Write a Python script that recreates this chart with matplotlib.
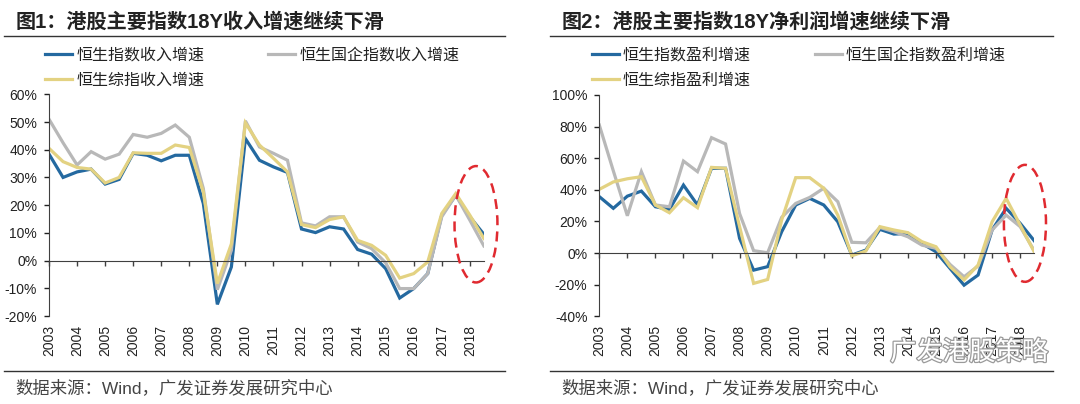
import matplotlib
matplotlib.use("Agg")
import matplotlib.pyplot as plt
import matplotlib.patheffects as pe
from matplotlib.lines import Line2D
from matplotlib.patches import Ellipse
import numpy as np

plt.rcParams['font.family'] = ['Liberation Sans', 'Noto Sans CJK SC']

# half-year periods, 2003 .. 2018H2
periods = np.arange(2003, 2019, 0.5)
years = list(range(2003, 2019))

# chart 1: revenue growth (%)
hsi_rev = [38.4, 30.0, 32.0, 33.0, 27.6, 29.3, 38.7, 38.0, 36.0, 38.0, 38.0, 20.6,
           -15.8, -2.3, 44.0, 36.2, 33.8, 31.8, 11.4, 10.1, 12.2, 11.4, 4.0, 2.3,
           -2.9, -13.5, -10.1, -4.7, 16.4, 23.6, 15.8, 9.5]
hscei_rev = [51.0, 42.5, 34.5, 39.3, 36.6, 38.4, 45.5, 44.5, 45.9, 48.9, 44.5, 26.0,
             -10.5, 3.7, 50.4, 41.0, 38.7, 36.2, 13.6, 12.5, 15.8, 15.8, 6.7, 4.3,
             -0.8, -10.1, -10.1, -4.7, 15.8, 23.6, 14.6, 5.3]
hsci_rev = [40.5, 35.7, 33.6, 33.0, 28.0, 30.0, 38.9, 38.7, 38.7, 41.7, 40.8, 24.8,
            -8.3, 6.0, 49.7, 41.7, 36.9, 32.0, 13.0, 11.9, 14.8, 15.8, 7.3, 5.5,
            1.9, -6.3, -4.7, -0.5, 17.0, 24.2, 16.4, 8.0]

# chart 2: net profit growth (%)
hsi_np = [35.7, 28.3, 36.0, 39.2, 29.3, 27.6, 43.0, 30.4, 53.6, 53.6, 9.3, -10.8,
          -8.6, 13.5, 30.4, 34.6, 30.4, 19.8, -1.3, 1.9, 15.0, 12.0, 12.4, 6.1,
          0.8, -9.7, -20.3, -13.9, 14.6, 28.3, 18.8, 7.8]
hscei_np = [81.0, 52.0, 23.6, 51.5, 30.4, 29.3, 58.2, 51.5, 73.0, 69.0, 25.0, 1.5,
            0.2, 22.6, 31.4, 35.2, 41.0, 32.5, 6.8, 6.5, 16.2, 13.5, 10.3, 5.0,
            3.0, -7.2, -15.0, -8.2, 14.6, 24.0, 16.7, 1.5]
hsci_np = [40.3, 45.0, 47.0, 48.3, 30.4, 25.5, 35.0, 28.7, 54.2, 53.6, 16.7, -19.2,
           -16.7, 20.9, 47.7, 47.7, 41.0, 24.0, -1.7, 1.3, 16.7, 14.6, 12.9, 7.2,
           4.0, -8.6, -17.0, -7.6, 19.8, 34.6, 17.7, 0.8]

titles = ['图1：港股主要指数18Y收入增速继续下滑', '图2：港股主要指数18Y净利润增速继续下滑']
labels1 = ['恒生指数收入增速', '恒生国企指数收入增速', '恒生综指收入增速']
labels2 = ['恒生指数盈利增速', '恒生国企指数盈利增速', '恒生综指盈利增速']
source = '数据来源：Wind，广发证券发展研究中心'

colors = ['#2469A0', '#B8B8B8', '#E3D282']

fig = plt.figure(figsize=(10.8, 4.04), dpi=100)
ax1 = fig.add_axes([0.0454, 0.2178, 0.4026, 0.5488])
ax2 = fig.add_axes([0.5549, 0.2171, 0.4027, 0.5478])


def draw(ax, series, labels, ylim, ystep, ell, leg_x):
    hs = []
    for s, c, lab in zip(series, colors, labels):
        h, = ax.plot(periods, s, color=c, lw=2.3, label=lab, solid_joinstyle='miter')
        hs.append(h)
    ax.set_xlim(periods[0], periods[-1])
    ax.set_ylim(*ylim)
    ax.set_yticks(np.arange(ylim[0], ylim[1] + 1, ystep))
    ax.yaxis.set_major_formatter(plt.FuncFormatter(lambda v, p: '%d%%' % v))
    ax.tick_params(axis='y', direction='out', length=3.5, width=1, pad=5,
                   labelsize=10, colors='#222222')
    ax.spines['left'].set_color('#404040')
    ax.spines['bottom'].set_color('#404040')
    ax.spines['bottom'].set_position(('data', 0))
    ax.spines['top'].set_visible(False)
    ax.spines['right'].set_visible(False)
    ax.set_xticks(years)
    ax.set_xticklabels([])
    ax.tick_params(axis='x', direction='out', length=3.5, width=1, color='#404040')
    for y in years:
        ax.text(y, -0.04, str(y), transform=ax.get_xaxis_transform(), rotation=90,
                ha='center', va='top', fontsize=10, color='#222222')
    ax.add_patch(Ellipse(ell[0], ell[1], ell[2], fill=False, edgecolor='#E02A30',
                         lw=1.8, ls=(0, (4, 2.5)), clip_on=False, zorder=5))
    ax.legend(handles=[hs[0], hs[2], hs[1]], ncol=2, loc='upper left',
              bbox_to_anchor=(leg_x, 0.882), bbox_transform=fig.transFigure,
              frameon=False, fontsize=11.5, handlelength=1.7, handletextpad=0.25,
              columnspacing=4.0, labelspacing=0.6, borderpad=0, borderaxespad=0,
              labelcolor='#222222')


draw(ax1, [hsi_rev, hscei_rev, hsci_rev], labels1, (-20, 60), 10,
     ((2018.22, 13.1), 1.53, 42), 0.0417)
draw(ax2, [hsi_np, hscei_np, hsci_np], labels2, (-40, 100), 20,
     ((2018.17, 18.8), 1.5, 74), 0.548)

# titles and separator lines
for x0, x1, tx, t in [(0.004, 0.468, 0.0145, titles[0]), (0.509, 0.975, 0.520, titles[1])]:
    fig.text(tx, 0.946, t, fontsize=14.5, fontweight='bold', color='#222222', va='center')
    fig.add_artist(Line2D([x0, x1], [0.912, 0.912], transform=fig.transFigure,
                          color='#333333', lw=1))
    fig.add_artist(Line2D([x0, x1], [0.0817, 0.0817], transform=fig.transFigure,
                          color='#333333', lw=1))
    fig.text(tx, 0.040, source, fontsize=12.5, color='#444444', va='center')

# watermark
fig.text(0.824, 0.128, '广发港股策略', fontsize=19, color='white', va='center',
         path_effects=[pe.withStroke(linewidth=1.8, foreground='#9A9A9A')])

fig.savefig('out.png', dpi=100)
